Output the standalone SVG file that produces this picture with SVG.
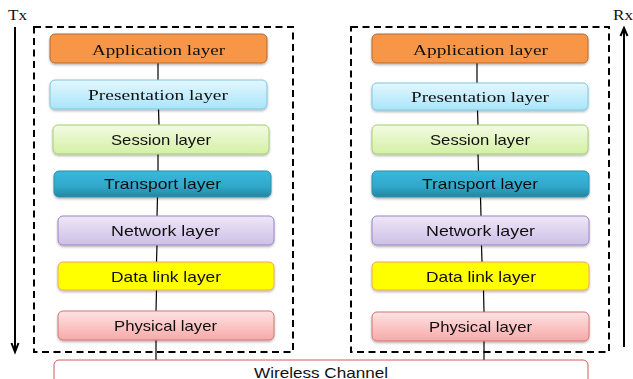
<svg xmlns="http://www.w3.org/2000/svg" width="633" height="379" viewBox="0 0 633 379">
  <style>
    .serif { font-family: "Liberation Serif", "Times New Roman", serif; font-size: 15.5px; fill: #111; }
    .sans { font-family: "Liberation Sans", Arial, sans-serif; font-size: 15px; fill: #111; }
    .stack { fill: none; stroke: #000; stroke-width: 2; stroke-dasharray: 7 4.5; }
    .link { stroke: #000; stroke-width: 1.2; fill: none; }
    .dir { stroke: #000; stroke-width: 2; fill: none; }
    .box { filter: url(#shadow); }
  </style>
  <defs>
    <filter id="shadow" x="-5%" y="-20%" width="110%" height="150%">
      <feDropShadow dx="0" dy="1.5" stdDeviation="1.2" flood-color="#000" flood-opacity="0.3"/>
    </filter>
    <linearGradient id="gPres" x1="0" y1="0" x2="0" y2="1">
      <stop offset="0" stop-color="#e4f7fe"/>
      <stop offset="1" stop-color="#a8e5fa"/>
    </linearGradient>
    <linearGradient id="gSess" x1="0" y1="0" x2="0" y2="1">
      <stop offset="0" stop-color="#f3fbe3"/>
      <stop offset="1" stop-color="#d4f0a4"/>
    </linearGradient>
    <linearGradient id="gTrans" x1="0" y1="0" x2="0" y2="1">
      <stop offset="0" stop-color="#3ab8dd"/>
      <stop offset="0.6" stop-color="#30a8cb"/>
      <stop offset="1" stop-color="#23859f"/>
    </linearGradient>
    <linearGradient id="gNet" x1="0" y1="0" x2="0" y2="1">
      <stop offset="0" stop-color="#eee7f7"/>
      <stop offset="1" stop-color="#cdbfe8"/>
    </linearGradient>
    <linearGradient id="gPhys" x1="0" y1="0" x2="0" y2="1">
      <stop offset="0" stop-color="#ffe3e3"/>
      <stop offset="1" stop-color="#f7a9a9"/>
    </linearGradient>
  </defs>

  <!-- direction labels and arrows -->
  <text class="serif" x="8" y="20" font-size="13" textLength="19" lengthAdjust="spacingAndGlyphs">Tx</text>
  <text class="serif" x="613" y="20" font-size="13" textLength="20" lengthAdjust="spacingAndGlyphs">Rx</text>
  <g id="tx-arrow">
    <line class="dir" x1="15" y1="27" x2="15" y2="351"/>
    <polyline class="dir" points="11.5,343 15,352 18.5,343"/>
  </g>
  <g id="rx-arrow">
    <line class="dir" x1="624" y1="347" x2="624" y2="29"/>
    <polyline class="dir" points="620.5,36 624,28 627.5,36"/>
  </g>

  <!-- protocol stack frames -->
  <rect class="stack" x="34" y="27" width="259" height="325"/>
  <rect class="stack" x="351" y="27" width="258" height="325"/>

  <!-- connectors between layers -->
  <g id="connectors">
    <line class="link" x1="158" y1="63" x2="158" y2="80"/>
    <line class="link" x1="158.5" y1="109" x2="159" y2="125"/>
    <line class="link" x1="158" y1="154" x2="158" y2="171"/>
    <line class="link" x1="157.5" y1="197" x2="157" y2="216"/>
    <line class="link" x1="157" y1="245" x2="156.5" y2="262"/>
    <line class="link" x1="156.5" y1="290" x2="156" y2="311"/>
    <line class="link" x1="156" y1="340" x2="156" y2="360"/>

    <line class="link" x1="477" y1="63" x2="477" y2="83"/>
    <line class="link" x1="477.5" y1="110" x2="478" y2="125"/>
    <line class="link" x1="478" y1="154" x2="478.5" y2="171"/>
    <line class="link" x1="480.5" y1="197" x2="481" y2="216"/>
    <line class="link" x1="481.5" y1="245" x2="482" y2="262"/>
    <line class="link" x1="483.5" y1="290" x2="484" y2="312"/>
    <line class="link" x1="484" y1="341" x2="484" y2="360"/>
  </g>

  <!-- transmitter stack -->
  <g id="tx-application" class="box">
    <rect x="50" y="34" width="217" height="29" rx="5" fill="#f79646" stroke="#b86b2e"/>
    <text class="serif" x="92" y="55" textLength="133" lengthAdjust="spacingAndGlyphs">Application layer</text>
  </g>
  <g id="tx-presentation" class="box">
    <rect x="50" y="80" width="217" height="29" rx="5" fill="url(#gPres)" stroke="#7cc6de"/>
    <text class="serif" x="88" y="100" textLength="140" lengthAdjust="spacingAndGlyphs">Presentation layer</text>
  </g>
  <g id="tx-session" class="box">
    <rect x="53" y="125" width="216" height="29" rx="5" fill="url(#gSess)" stroke="#a9cc70"/>
    <text class="sans" x="111" y="145" textLength="100" lengthAdjust="spacingAndGlyphs">Session layer</text>
  </g>
  <g id="tx-transport" class="box">
    <rect x="54" y="171" width="217" height="26" rx="5" fill="url(#gTrans)" stroke="#2a90ad"/>
    <text class="sans" x="104" y="188.5" textLength="117" lengthAdjust="spacingAndGlyphs">Transport layer</text>
  </g>
  <g id="tx-network" class="box">
    <rect x="58" y="216" width="216" height="29" rx="5" fill="url(#gNet)" stroke="#9a85c4"/>
    <text class="sans" x="111" y="236" textLength="109" lengthAdjust="spacingAndGlyphs">Network layer</text>
  </g>
  <g id="tx-datalink" class="box">
    <rect x="58" y="262" width="216" height="28" rx="5" fill="#ffff00" stroke="#f2a65e"/>
    <text class="sans" x="111" y="281.5" textLength="110" lengthAdjust="spacingAndGlyphs">Data link layer</text>
  </g>
  <g id="tx-physical" class="box">
    <rect x="58" y="311" width="216" height="29" rx="5" fill="url(#gPhys)" stroke="#d47474"/>
    <text class="sans" x="114" y="331" textLength="103" lengthAdjust="spacingAndGlyphs">Physical layer</text>
  </g>

  <!-- receiver stack -->
  <g id="rx-application" class="box">
    <rect x="372" y="34" width="216" height="29" rx="5" fill="#f79646" stroke="#b86b2e"/>
    <text class="serif" x="413" y="55" textLength="135" lengthAdjust="spacingAndGlyphs">Application layer</text>
  </g>
  <g id="rx-presentation" class="box">
    <rect x="372" y="83" width="216" height="27" rx="5" fill="url(#gPres)" stroke="#7cc6de"/>
    <text class="serif" x="411" y="102" textLength="138" lengthAdjust="spacingAndGlyphs">Presentation layer</text>
  </g>
  <g id="rx-session" class="box">
    <rect x="372" y="125" width="216" height="29" rx="5" fill="url(#gSess)" stroke="#a9cc70"/>
    <text class="sans" x="430" y="145" textLength="100" lengthAdjust="spacingAndGlyphs">Session layer</text>
  </g>
  <g id="rx-transport" class="box">
    <rect x="372" y="171" width="217" height="26" rx="5" fill="url(#gTrans)" stroke="#2a90ad"/>
    <text class="sans" x="422" y="188.5" textLength="116" lengthAdjust="spacingAndGlyphs">Transport layer</text>
  </g>
  <g id="rx-network" class="box">
    <rect x="372" y="216" width="217" height="29" rx="5" fill="url(#gNet)" stroke="#9a85c4"/>
    <text class="sans" x="426" y="236" textLength="109" lengthAdjust="spacingAndGlyphs">Network layer</text>
  </g>
  <g id="rx-datalink" class="box">
    <rect x="372" y="262" width="217" height="28" rx="5" fill="#ffff00" stroke="#f2a65e"/>
    <text class="sans" x="426" y="281.5" textLength="110" lengthAdjust="spacingAndGlyphs">Data link layer</text>
  </g>
  <g id="rx-physical" class="box">
    <rect x="372" y="312" width="217" height="29" rx="5" fill="url(#gPhys)" stroke="#d47474"/>
    <text class="sans" x="429" y="332" textLength="103" lengthAdjust="spacingAndGlyphs">Physical layer</text>
  </g>

  <!-- shared medium -->
  <g id="wireless-channel">
    <rect x="54" y="360" width="534" height="30" rx="5" fill="#ffffff" stroke="#d05a5a"/>
    <text class="sans" x="254" y="377.5" textLength="134" lengthAdjust="spacingAndGlyphs">Wireless Channel</text>
  </g>
</svg>
